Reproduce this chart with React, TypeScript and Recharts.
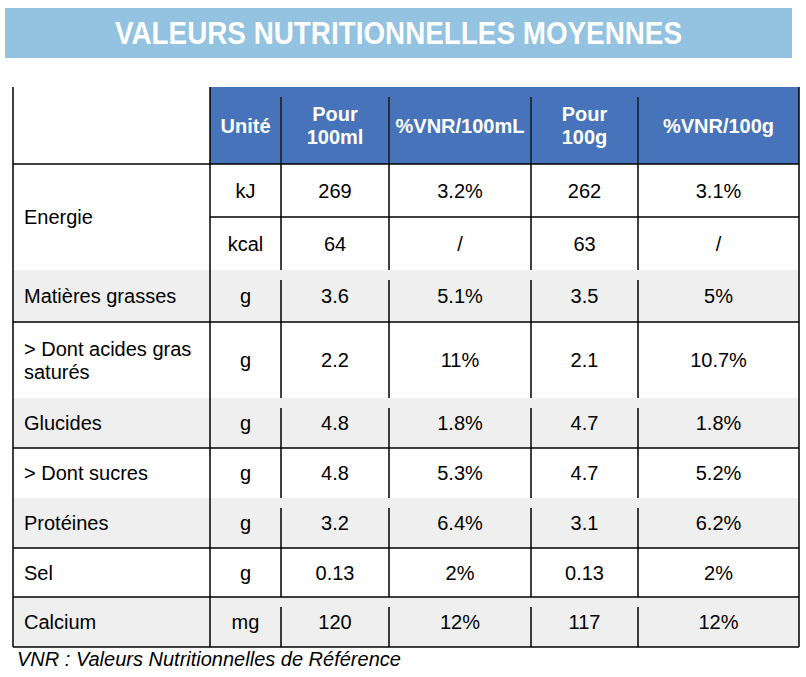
import React from 'react';
import { ComposedChart, XAxis, YAxis, Scatter, ReferenceArea, ReferenceLine } from 'recharts';

// ---------- data ----------
const title = 'VALEURS NUTRITIONNELLES MOYENNES';
const footnote = 'VNR : Valeurs Nutritionnelles de Référence';
const headers = ['', 'Unité', 'Pour\n100ml', '%VNR/100mL', 'Pour\n100g', '%VNR/100g'];
const nutrients = ['Energie', '', 'Matières grasses', '> Dont acides gras\nsaturés', 'Glucides', '> Dont sucres', 'Protéines', 'Sel', 'Calcium'];
const units = ['kJ', 'kcal', 'g', 'g', 'g', 'g', 'g', 'g', 'mg'];
const per100ml = ['269', '64', '3.6', '2.2', '4.8', '4.8', '3.2', '0.13', '120'];
const vnr100ml = ['3.2%', '/', '5.1%', '11%', '1.8%', '5.3%', '6.4%', '2%', '12%'];
const per100g = ['262', '63', '3.5', '2.1', '4.7', '4.7', '3.1', '0.13', '117'];
const vnr100g = ['3.1%', '/', '5%', '10.7%', '1.8%', '5.2%', '6.2%', '2%', '12%'];

// ---------- layout ----------
const W = 806;
const H = 677;
const FONT = '"Liberation Sans", Arial, sans-serif';
const colEdges = [13, 210, 281, 389, 531, 638, 799];
const headerTop = 87;
const headerInnerTop = 97;
const bodyEdges = [164, 217, 270, 322, 398, 448, 498, 548, 597, 647];
const shadedRows = [2, 4, 6, 8];
const lineBoundaries = [0, 1, 3, 5, 7, 8, 9];
const rowSpanOf = [2, 0, 1, 1, 1, 1, 1, 1, 1];
const banner = { x1: 5, x2: 792, y1: 8, y2: 58 };
const lineH = 23;

type T = { x: number; y: number; text: string; anchor: string; weight: string; color: string; size: number; italic?: boolean; fit?: number };

const colCenter = (c: number) => (colEdges[c] + colEdges[c + 1]) / 2;

const texts: T[] = [];
texts.push({ x: 398.5, y: 33, text: title, anchor: 'middle', weight: 'bold', color: '#ffffff', size: 30.5, fit: 567 });
headers.forEach((h, c) => {
  if (!h) return;
  texts.push({ x: colCenter(c), y: (headerTop + bodyEdges[0]) / 2, text: h, anchor: 'middle', weight: 'bold', color: '#ffffff', size: 20 });
});
const bodyCols = [units, per100ml, vnr100ml, per100g, vnr100g];
nutrients.forEach((n, r) => {
  const top = bodyEdges[r];
  const bot = bodyEdges[r + rowSpanOf[r]] ?? bodyEdges[r + 1];
  if (n) texts.push({ x: 24, y: (top + bot) / 2, text: n, anchor: 'start', weight: 'normal', color: '#000', size: 20 });
  bodyCols.forEach((arr, i) => {
    texts.push({ x: colCenter(i + 1), y: (bodyEdges[r] + bodyEdges[r + 1]) / 2, text: arr[r], anchor: 'middle', weight: 'normal', color: '#000', size: 20 });
  });
});
texts.push({ x: 17, y: 659, text: footnote, anchor: 'start', weight: 'normal', color: '#000', size: 20, italic: true });

const TextShape = (props: any) => {
  const { cx, cy, payload } = props;
  const p = payload as T;
  const lines = p.text.split('\n');
  const n = lines.length;
  return (
    <g>
      {lines.map((ln, i) => (
        <text
          key={i}
          x={cx}
          y={cy + (i - (n - 1) / 2) * lineH + p.size * 0.35}
          textAnchor={p.anchor as any}
          fontFamily={FONT}
          fontSize={p.size}
          fontWeight={p.weight}
          fontStyle={p.italic ? 'italic' : 'normal'}
          fill={p.color}
          {...(p.fit ? { textLength: p.fit, lengthAdjust: 'spacingAndGlyphs' } : {})}
        >
          {ln}
        </text>
      ))}
    </g>
  );
};

export default function App() {
  const hLines: React.ReactNode[] = [];
  lineBoundaries.forEach((k) => {
    const y = bodyEdges[k];
    const x1 = k === 1 ? colEdges[1] : colEdges[0];
    hLines.push(
      <ReferenceLine key={'h' + k} segment={[{ x: x1, y }, { x: colEdges[6], y }]} stroke="#000" strokeWidth={1.5} ifOverflow="visible" />
    );
  });
  const vLines: React.ReactNode[] = [];
  [0, 1, 6].forEach((c) => {
    vLines.push(
      <ReferenceLine key={'vo' + c} segment={[{ x: colEdges[c], y: headerTop }, { x: colEdges[c], y: bodyEdges[9] }]} stroke="#000" strokeWidth={1.5} ifOverflow="visible" />
    );
  });
  [2, 3, 4, 5].forEach((c) => {
    const x = colEdges[c];
    vLines.push(
      <ReferenceLine key={'vh' + c} segment={[{ x, y: headerInnerTop }, { x, y: bodyEdges[0] }]} stroke="#1a1a1a" strokeWidth={1.5} ifOverflow="visible" />
    );
    for (let r = 0; r < 9; r++) {
      const top = bodyEdges[r] + (shadedRows.includes(r) ? 10 : 0);
      vLines.push(
        <ReferenceLine key={'v' + c + '-' + r} segment={[{ x, y: top }, { x, y: bodyEdges[r + 1] }]} stroke="#000" strokeWidth={1.5} ifOverflow="visible" />
      );
    }
  });

  return (
    <div style={{ position: 'absolute', left: 0, top: 0, width: W, height: H, background: '#fff' }}>
      <ComposedChart width={W} height={H} margin={{ top: 0, right: 0, bottom: 0, left: 0 }} data={texts}>
        <XAxis type="number" dataKey="x" domain={[0, W]} hide allowDataOverflow />
        <YAxis type="number" dataKey="y" domain={[0, H]} reversed hide allowDataOverflow />
        <ReferenceArea x1={banner.x1} x2={banner.x2} y1={banner.y1} y2={banner.y2} fill="#93C3E1" fillOpacity={1} stroke="none" ifOverflow="visible" />
        <ReferenceArea x1={colEdges[1]} x2={colEdges[6]} y1={headerTop} y2={bodyEdges[0]} fill="#4673B9" fillOpacity={1} stroke="none" ifOverflow="visible" />
        {shadedRows.map((r) => (
          <ReferenceArea key={'s' + r} x1={colEdges[0]} x2={colEdges[6]} y1={bodyEdges[r]} y2={bodyEdges[r + 1]} fill="#EFEFEF" fillOpacity={1} stroke="none" ifOverflow="visible" />
        ))}
        {hLines}
        {vLines}
        <Scatter data={texts} dataKey="y" shape={<TextShape />} isAnimationActive={false} />
      </ComposedChart>
    </div>
  );
}
